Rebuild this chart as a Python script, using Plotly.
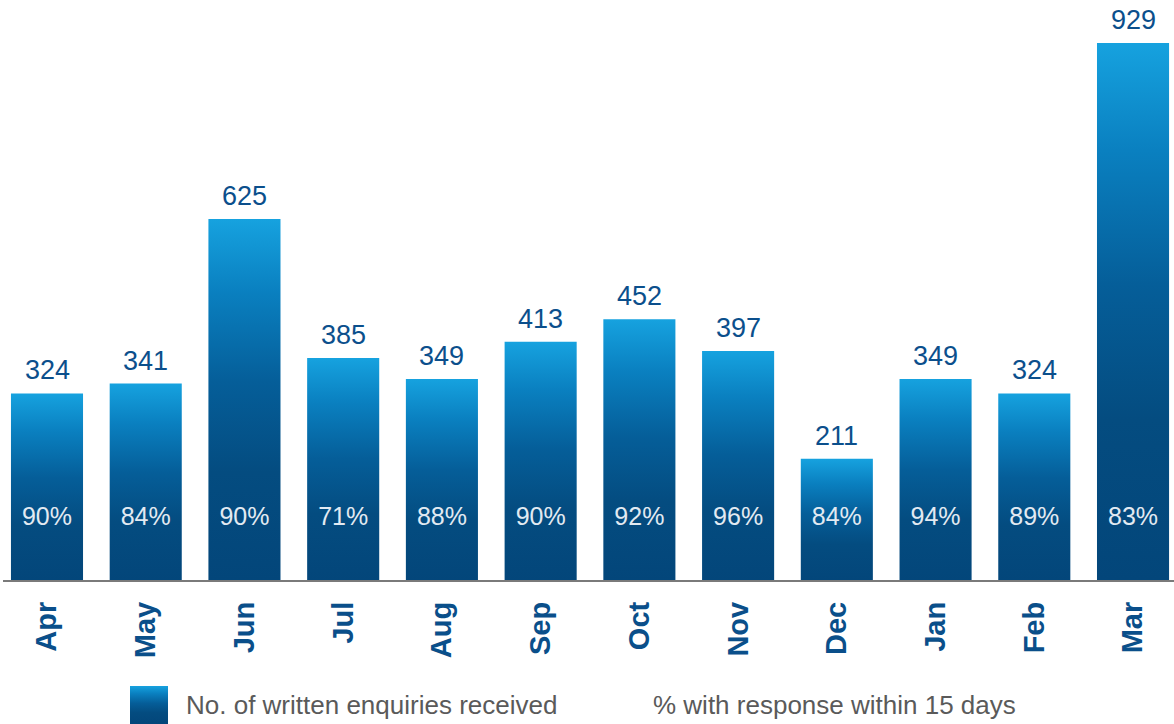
import plotly.graph_objects as go

months = ["Apr", "May", "Jun", "Jul", "Aug", "Sep", "Oct", "Nov", "Dec", "Jan", "Feb", "Mar"]
enquiries = [324, 341, 625, 385, 349, 413, 452, 397, 211, 349, 324, 929]
pct_response = [90, 84, 90, 71, 88, 90, 92, 96, 84, 94, 89, 83]
legend_labels = ["No. of written enquiries received", "% with response within 15 days"]

W, H = 1174, 724
BAR_W = 0.73
Y_MAX = 1003.3
PCT_Y = 108
grad = [[0.0, "#03467a"], [0.3, "#044c80"], [0.55, "#055e99"], [0.8, "#0a80c0"], [1.0, "#16a2df"]]
VAL_COLOR = "#0b4f8c"
FONT = "Liberation Sans, Arial, sans-serif"

fig = go.Figure()

for i, (m, v) in enumerate(zip(months, enquiries)):
    fig.add_trace(go.Scatter(
        x=[i - BAR_W / 2, i + BAR_W / 2, i + BAR_W / 2, i - BAR_W / 2, i - BAR_W / 2],
        y=[0, 0, v, v, 0],
        mode="lines", line=dict(width=0), fill="toself",
        fillgradient=dict(type="vertical", colorscale=grad),
        hoverinfo="skip", showlegend=False,
    ))
    fig.add_annotation(x=i, y=v, xref="x", yref="y", text=str(v), showarrow=False,
                       xanchor="center", yanchor="middle", yshift=23,
                       font=dict(family=FONT, size=27, color=VAL_COLOR))

fig.add_trace(go.Scatter(
    x=list(range(len(months))), y=[PCT_Y] * len(months), mode="text",
    text=[f"{p}%" for p in pct_response], textposition="middle center",
    textfont=dict(family=FONT, size=25, color="#e2eaf2"),
    showlegend=False, hoverinfo="skip",
))

# legend swatch on pixel-space axes covering the whole figure
fig.add_trace(go.Scatter(
    x=[130, 168, 168, 130, 130], y=[724, 724, 686, 686, 724],
    xaxis="x2", yaxis="y2", mode="lines", line=dict(width=0), fill="toself",
    fillgradient=dict(type="vertical", colorscale=grad),
    hoverinfo="skip", showlegend=False,
))

fig.add_shape(type="line", xref="x2", yref="y2", x0=3, x1=1174, y0=581, y1=581,
              line=dict(color="#7a7a7a", width=2))

fig.add_annotation(xref="x2", yref="y2", x=184, y=705, text=legend_labels[0],
                   showarrow=False, xanchor="left", yanchor="middle",
                   font=dict(family=FONT, size=26, color="#5a5a5a"))
fig.add_annotation(xref="x2", yref="y2", x=651, y=705, text=legend_labels[1],
                   showarrow=False, xanchor="left", yanchor="middle",
                   font=dict(family=FONT, size=26, color="#5a5a5a"))

fig.update_layout(
    width=W, height=H,
    margin=dict(l=0, r=0, t=0, b=0),
    plot_bgcolor="rgba(0,0,0,0)", paper_bgcolor="white",
    showlegend=False,
    xaxis=dict(domain=[0, 1], range=[-0.476, 11.415], tickvals=list(range(len(months))),
               ticktext=months, tickangle=-90, showgrid=False, zeroline=False,
               showline=False, ticks="", ticklabelstandoff=14,
               tickfont=dict(family=FONT, size=29, color="#0a4f8a", weight="bold"),
               automargin=False, fixedrange=True, anchor="y"),
    yaxis=dict(domain=[143 / H, 1], range=[0, Y_MAX], showgrid=False, zeroline=False,
               showticklabels=False, showline=False, automargin=False, anchor="x"),
    xaxis2=dict(domain=[0, 1], range=[0, W], visible=False, anchor="y2"),
    yaxis2=dict(domain=[0, 1], range=[H, 0], visible=False, anchor="x2"),
)

fig.write_html("out.html", config={"displayModeBar": False},
               post_script="document.body.style.margin='0';document.body.style.padding='0';")
